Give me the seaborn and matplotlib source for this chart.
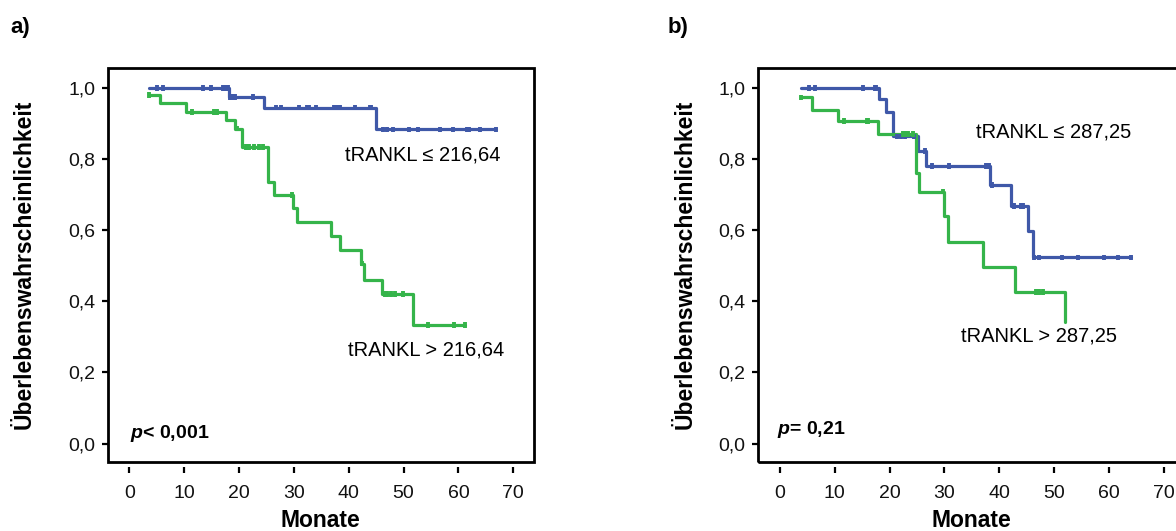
import numpy as np
import pandas as pd
import matplotlib
matplotlib.use("Agg")
import matplotlib.pyplot as plt
import seaborn as sns
from matplotlib.patches import Rectangle

# ---------------- data ----------------
# Panel a) cut-off 216,64
a_low_label = "tRANKL ≤ 216,64"
a_low_start_t, a_low_start_s = 3.5, 1.0
a_low_event_t = [18.1, 24.6, 44.9]
a_low_event_s = [0.975, 0.945, 0.884]
a_low_end_t = 66.9
a_low_censor_t = [5.1, 6.1, 13.4, 14.9, 17.0, 17.4, 17.9, 18.4, 18.8, 19.2, 22.6,
                  26.8, 27.7, 30.9, 32.3, 32.7, 34.0, 37.4, 37.9, 38.4, 41.1, 43.8,
                  44.1, 46.2, 47.0, 48.1, 51.0, 52.7, 56.6, 59.1, 61.5, 62.0, 64.0, 66.9]

a_high_label = "tRANKL > 216,64"
a_high_start_t, a_high_start_s = 3.5, 0.98
a_high_event_t = [5.6, 10.4, 17.7, 19.3, 20.5, 25.2, 26.3, 29.9, 30.5, 36.7, 38.4,
                  42.2, 42.8, 46.1, 51.8]
a_high_event_s = [0.958, 0.933, 0.909, 0.886, 0.834, 0.736, 0.699, 0.664, 0.622,
                  0.583, 0.544, 0.506, 0.461, 0.420, 0.334]
a_high_end_t = 61.2
a_high_censor_t = [3.5, 11.5, 15.5, 15.9, 19.6, 21.3, 21.9, 22.8, 23.7, 24.4, 29.6,
                   42.4, 46.6, 47.0, 47.8, 48.4, 49.9, 54.5, 59.2, 61.2]
a_p_text = "< 0,001"

# Panel b) cut-off 287,25
b_low_label = "tRANKL ≤ 287,25"
b_low_start_t, b_low_start_s = 3.8, 1.0
b_low_event_t = [18.1, 19.3, 20.7, 25.1, 26.7, 38.4, 42.2, 45.2, 46.1]
b_low_event_s = [0.970, 0.933, 0.864, 0.823, 0.781, 0.728, 0.669, 0.599, 0.524]
b_low_end_t = 64.1
b_low_censor_t = [5.3, 6.4, 15.2, 17.3, 17.6, 21.3, 22.0, 22.8, 24.4, 26.5, 27.8,
                  30.9, 37.6, 38.1, 38.6, 42.7, 43.9, 44.3, 46.3, 47.3, 51.4, 54.4,
                  59.1, 61.6, 64.1]

b_high_label = "tRANKL > 287,25"
b_high_start_t, b_high_start_s = 3.8, 0.974
b_high_event_t = [5.8, 10.6, 17.9, 24.9, 25.4, 29.9, 30.6, 37.0, 42.8, 52.0]
b_high_event_s = [0.938, 0.908, 0.871, 0.760, 0.709, 0.640, 0.567, 0.498, 0.426, 0.343]
b_high_end_t = 52.0
b_high_censor_t = [3.8, 11.6, 15.8, 16.1, 22.5, 22.9, 23.3, 24.2, 29.7, 46.7, 47.3, 47.9]
b_p_text = "= 0,21"

x_ticks = [0, 10, 20, 30, 40, 50, 60, 70]
y_ticks = [0.0, 0.2, 0.4, 0.6, 0.8, 1.0]
x_label = "Monate"
y_label = "Überlebenswahrscheinlichkeit"

BLUE = "#3F58A8"
GREEN = "#35B44A"

# ---------------- style ----------------
sns.set_theme(style="white")
plt.rcParams["font.family"] = ["Liberation Sans", "DejaVu Sans"]
plt.rcParams["mathtext.fontset"] = "custom"
plt.rcParams["mathtext.it"] = "Liberation Sans:bold:italic"
plt.rcParams["mathtext.rm"] = "Liberation Sans:bold"
plt.rcParams["text.color"] = "black"
plt.rcParams["axes.labelcolor"] = "black"


def curve_frame(start_t, start_s, ev_t, ev_s, end_t, group):
    x = [start_t] + list(ev_t) + [end_t]
    y = [start_s] + list(ev_s) + [ev_s[-1]]
    return pd.DataFrame({"t": x, "s": y, "group": group})


def censor_frame(start_s, ev_t, ev_s, cens_t, group):
    ev_t = np.asarray(ev_t)
    vals = []
    for c in cens_t:
        idx = np.searchsorted(ev_t, c, side="right")
        vals.append(start_s if idx == 0 else ev_s[idx - 1])
    return pd.DataFrame({"t": cens_t, "s": vals, "group": group})


fig = plt.figure(figsize=(11.76, 5.31), dpi=100)
W, H = 1176.0, 531.0
ax_w, ax_h = 426 / W, 394.5 / H
ax_bot = 1 - 462 / H
ax_a = fig.add_axes([107.5 / W, ax_bot, ax_w, ax_h])
ax_b = fig.add_axes([758 / W, ax_bot, ax_w, ax_h])

panels = [
    (ax_a,
     (a_low_start_t, a_low_start_s, a_low_event_t, a_low_event_s, a_low_end_t, a_low_censor_t, a_low_label),
     (a_high_start_t, a_high_start_s, a_high_event_t, a_high_event_s, a_high_end_t, a_high_censor_t, a_high_label),
     a_p_text, [(53.5, 0.811), (54.1, 0.262), (0.1, 0.029)], -0.168),
    (ax_b,
     (b_low_start_t, b_low_start_s, b_low_event_t, b_low_event_s, b_low_end_t, b_low_censor_t, b_low_label),
     (b_high_start_t, b_high_start_s, b_high_event_t, b_high_event_s, b_high_end_t, b_high_censor_t, b_high_label),
     b_p_text, [(50.0, 0.877), (47.2, 0.303), (-0.5, 0.039)], -0.145),
]

for ax, low, high, ptxt, txt_pos, ylab_x in panels:
    lines = pd.concat([
        curve_frame(low[0], low[1], low[2], low[3], low[4], low[6]),
        curve_frame(high[0], high[1], high[2], high[3], high[4], high[6]),
    ], ignore_index=True)
    cens = pd.concat([
        censor_frame(low[1], low[2], low[3], low[5], low[6]),
        censor_frame(high[1], high[2], high[3], high[5], high[6]),
    ], ignore_index=True)
    pal = {low[6]: BLUE, high[6]: GREEN}
    sns.lineplot(data=lines, x="t", y="s", hue="group", palette=pal,
                 drawstyle="steps-post", estimator=None, sort=False,
                 linewidth=2.3, legend=False, ax=ax)
    sns.scatterplot(data=cens, x="t", y="s", hue="group", palette=pal,
                    marker="|", s=16, linewidth=2.8, legend=False, ax=ax, zorder=3)

    ax.set_xlim(-4, 73.7)
    ax.set_ylim(-0.052, 1.058)
    for sp in ax.spines.values():
        sp.set_visible(False)
    ax.spines["bottom"].set_position(("outward", 3.5))
    ax.add_patch(Rectangle((0, 0), 1, 1, transform=ax.transAxes, fill=False,
                           lw=2.0, ec="black", zorder=5, clip_on=False))
    ax.set_xticks(x_ticks)
    ax.set_xticklabels([str(v) for v in x_ticks])
    ax.set_yticks(y_ticks)
    ax.set_yticklabels([f"{v:.1f}".replace(".", ",") for v in y_ticks])
    ax.tick_params(axis="both", bottom=True, left=True, direction="out",
                   length=4, width=1.6, color="black", labelsize=14,
                   labelcolor="#111111")
    ax.tick_params(axis="y", pad=5)
    ax.tick_params(axis="x", pad=9)
    ax.set_xlabel(x_label, fontsize=16.5, fontweight="bold")
    ax.set_ylabel(y_label, fontsize=16.5, fontweight="bold")
    ax.yaxis.set_label_coords(ylab_x, 0.5)
    ax.xaxis.set_label_coords(0.5, -0.118)
    ax.grid(False)

    ax.text(txt_pos[0][0], txt_pos[0][1], low[6], fontsize=14.5, ha="center", va="center",
            color="black")
    ax.text(txt_pos[1][0], txt_pos[1][1], high[6], fontsize=14.5, ha="center", va="center",
            color="black")
    ax.text(txt_pos[2][0], txt_pos[2][1], r"$\mathit{p}$" + ptxt, fontsize=14,
            fontweight="bold", ha="left", va="center", color="black")

fig.text(10 / W, 1 - 28 / H, "a)", fontsize=16, fontweight="bold", va="center", ha="left")
fig.text(668 / W, 1 - 28 / H, "b)", fontsize=16, fontweight="bold", va="center", ha="left")

fig.savefig("out.png", dpi=100)
